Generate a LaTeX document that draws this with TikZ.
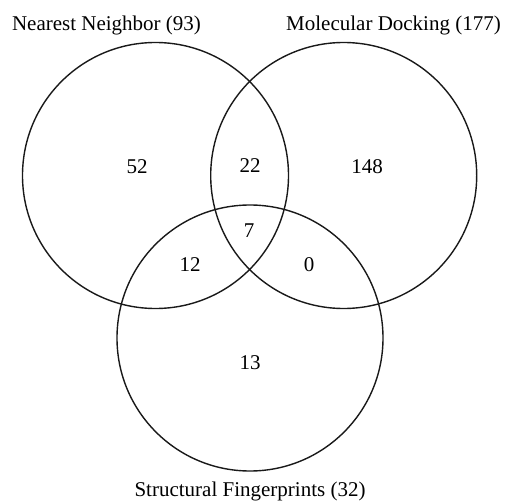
\documentclass[tikz,border=0pt]{standalone}
\usepackage{fontspec}
\setmainfont{Liberation Serif}
\begin{document}
\begin{tikzpicture}[x=1pt,y=-1pt,
  ring/.style={draw=black!90,line width=1.4pt},
  lbl/.style={font=\fontsize{21}{24}\selectfont,inner sep=0pt},
  num/.style={font=\fontsize{21}{24}\selectfont,inner sep=0pt}]
\useasboundingbox (0,0) rectangle (506,503);
\draw[ring] (155.5,175.5) circle (133);
\draw[ring] (343.7,175.5) circle (133);
\draw[ring] (250,338) circle (133);
\node[lbl] (nn) at (106.5,25) {Nearest Neighbor (93)};
\node[lbl] (md) at (393.5,25) {Molecular Docking (177)};
\node[lbl] (sf) at (250,491) {Structural Fingerprints (32)};
\node[num] (a) at (137,167) {52};
\node[num] (ab) at (250,166) {22};
\node[num] (b) at (367,167) {148};
\node[num] (abc) at (249,231) {7};
\node[num] (ac) at (190,265) {12};
\node[num] (bc) at (309,265) {0};
\node[num] (c) at (250,363) {13};
\end{tikzpicture}
\end{document}
